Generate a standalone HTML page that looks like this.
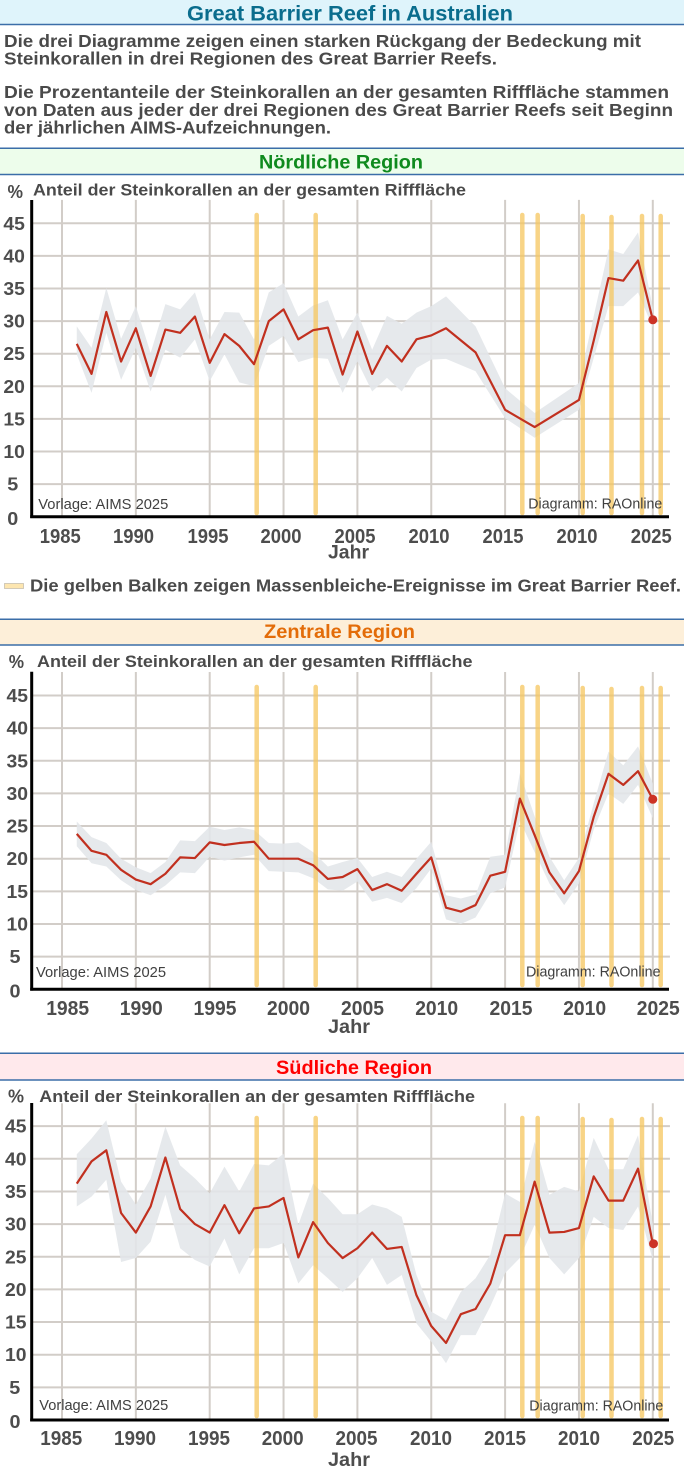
<!DOCTYPE html>
<html><head><meta charset="utf-8"><style>
html,body{margin:0;padding:0;background:#fff}
svg{display:block}
text{font-family:"Liberation Sans",Arial,sans-serif}
.b{font-weight:bold}
.gr line{stroke:#d2cdc8;stroke-width:2;vector-effect:non-scaling-stroke}
.band{fill:#e3e6e9;opacity:.88}
.ln{fill:none;stroke:#c1301f;stroke-width:2.2;stroke-linejoin:round;vector-effect:non-scaling-stroke}
.bar line{stroke:#f5c55e;stroke-opacity:.75;stroke-width:4.5;stroke-linecap:round}
.ax{stroke:#000;stroke-width:3}
.yt{font-weight:bold;font-size:18.5px;fill:#4d4d4d;text-anchor:middle}
.xt{font-weight:bold;font-size:20px;fill:#4d4d4d;text-anchor:middle}
.sep{stroke:#3b6ea8;stroke-width:1.5}
.src{font-size:15px;fill:#404040}
</style></head><body>
<svg width="684" height="1473" viewBox="0 0 684 1473" xmlns="http://www.w3.org/2000/svg">
<rect width="684" height="1473" fill="#fff"/>
<!-- Header -->
<rect x="0" y="0" width="684" height="24.3" fill="#dff4fb"/>
<line class="sep" x1="0" y1="24.5" x2="684" y2="24.5"/>
<text class="b" x="187" y="20.5" font-size="21" fill="#0a6d8d" textLength="326" lengthAdjust="spacingAndGlyphs">Great Barrier Reef in Australien</text>
<g class="b" font-size="17.5" fill="#4a4a4a">
<text x="4" y="47" textLength="637" lengthAdjust="spacingAndGlyphs">Die drei Diagramme zeigen einen starken Rückgang der Bedeckung mit</text>
<text x="4" y="64.5" textLength="493" lengthAdjust="spacingAndGlyphs">Steinkorallen in drei Regionen des Great Barrier Reefs.</text>
<text x="4" y="98" textLength="665" lengthAdjust="spacingAndGlyphs">Die Prozentanteile der Steinkorallen an der gesamten Rifffläche stammen</text>
<text x="4" y="116" textLength="669" lengthAdjust="spacingAndGlyphs">von Daten aus jeder der drei Regionen des Great Barrier Reefs seit Beginn</text>
<text x="4" y="133.5" textLength="327" lengthAdjust="spacingAndGlyphs">der jährlichen AIMS-Aufzeichnungen.</text>
</g>

<!-- Nördliche band -->
<rect x="0" y="148.3" width="684" height="26.2" fill="#edfdeb"/>
<line class="sep" x1="0" y1="148.3" x2="684" y2="148.3"/>
<line class="sep" x1="0" y1="174.5" x2="684" y2="174.5"/>
<text class="b" x="259" y="168.5" font-size="19.5" fill="#0f8a1e" textLength="164" lengthAdjust="spacingAndGlyphs">Nördliche Region</text>

<!-- Chart 1 -->
<text class="b" x="7.5" y="198" font-size="18.5" fill="#4a4a4a" textLength="15.5" lengthAdjust="spacingAndGlyphs">%</text>
<text class="b" x="33" y="195.5" font-size="17" fill="#4a4a4a" textLength="433" lengthAdjust="spacingAndGlyphs">Anteil der Steinkorallen an der gesamten Rifffläche</text>
<g transform="matrix(14.77 0 0 -6.52 62 516.7)">
<g class="gr">
<line x1="-2.03" y1="5" x2="41.16" y2="5"/><line x1="-2.03" y1="10" x2="41.16" y2="10"/><line x1="-2.03" y1="15" x2="41.16" y2="15"/><line x1="-2.03" y1="20" x2="41.16" y2="20"/><line x1="-2.03" y1="25" x2="41.16" y2="25"/><line x1="-2.03" y1="30" x2="41.16" y2="30"/><line x1="-2.03" y1="35" x2="41.16" y2="35"/><line x1="-2.03" y1="40" x2="41.16" y2="40"/><line x1="-2.03" y1="45" x2="41.16" y2="45"/>
<line x1="0" y1="0" x2="0" y2="48.6"/><line x1="5" y1="0" x2="5" y2="48.6"/><line x1="10" y1="0" x2="10" y2="48.6"/><line x1="15" y1="0" x2="15" y2="48.6"/><line x1="20" y1="0" x2="20" y2="48.6"/><line x1="25" y1="0" x2="25" y2="48.6"/><line x1="30" y1="0" x2="30" y2="48.6"/><line x1="35" y1="0" x2="35" y2="48.6"/><line x1="40" y1="0" x2="40" y2="48.6"/>
</g>
<polygon class="band" points="1,29.2 2,25.9 3,35.1 4,27.3 5,32.3 6,25.1 7,32.6 8,31.8 9,34.4 10,27.2 11,31.4 12,31.3 13,27.2 14,34.4 15,35.8 16,30.7 17,32.4 18,33.2 19,27.2 20,31.3 21,25.6 22,30.8 23,29.6 24,31.3 25,32.3 26,33.8 28,29.2 30,19.7 32,15.9 35,20.5 37,41 38,40.3 39,43.6 40,32 40,29 39,34.4 38,32.3 37,32.3 35,16.4 32,12.1 30,15.1 28,22.3 26,24.2 25,24.1 24,22.8 23,19.2 22,21.3 21,19.2 20,23.8 19,19 18,24.2 17,24.4 16,23.7 15,27.7 14,26.2 13,20 12,20.6 11,24.9 10,20.8 9,27.2 8,24.4 7,25.6 6,19.2 5,25.9 4,21 3,28.2 2,19 1,24.9"/>
</g>
<g class="bar">
<line x1="256.7" y1="215" x2="256.7" y2="513"/><line x1="315.7" y1="215" x2="315.7" y2="513"/><line x1="522.3" y1="215" x2="522.3" y2="513"/><line x1="537.7" y1="215" x2="537.7" y2="513"/><line x1="582.7" y1="216" x2="582.7" y2="513"/><line x1="611.5" y1="217" x2="611.5" y2="513"/><line x1="642" y1="216" x2="642" y2="513"/><line x1="660.7" y1="216" x2="660.7" y2="513"/>
</g>
<g transform="matrix(14.77 0 0 -6.52 62 516.7)">
<polyline class="ln" points="1,26.5 2,21.9 3,31.4 4,23.8 5,28.9 6,21.6 7,28.7 8,28.2 9,30.7 10,23.6 11,28 12,26.2 13,23.4 14,30 15,31.8 16,27.2 17,28.6 18,29 19,21.8 20,28.4 21,21.9 22,26.2 23,23.8 24,27.2 25,27.8 26,28.9 28,25.2 30,16.4 32,13.75 35,17.9 36,27 37,36.6 38,36.2 39,39.3 40,30.2"/>
</g>
<circle cx="652.8" cy="319.8" r="4.5" fill="#cc3326"/>
<line class="ax" x1="31.7" y1="200" x2="31.7" y2="518"/>
<line class="ax" x1="30.2" y1="516.7" x2="669" y2="516.7"/>
<g>
<text class="yt" x="14.2" y="230" textLength="21.5" lengthAdjust="spacingAndGlyphs">45</text>
<text class="yt" x="14.2" y="262.5" textLength="21.5" lengthAdjust="spacingAndGlyphs">40</text>
<text class="yt" x="14.2" y="295" textLength="21.5" lengthAdjust="spacingAndGlyphs">35</text>
<text class="yt" x="14.2" y="327.6" textLength="21.5" lengthAdjust="spacingAndGlyphs">30</text>
<text class="yt" x="14.2" y="360.2" textLength="21.5" lengthAdjust="spacingAndGlyphs">25</text>
<text class="yt" x="14.2" y="392.8" textLength="21.5" lengthAdjust="spacingAndGlyphs">20</text>
<text class="yt" x="14.2" y="425.4" textLength="21.5" lengthAdjust="spacingAndGlyphs">15</text>
<text class="yt" x="14.2" y="458" textLength="21.5" lengthAdjust="spacingAndGlyphs">10</text>
<text class="yt" x="12.8" y="490.6" textLength="11" lengthAdjust="spacingAndGlyphs">5</text>
<text class="yt" x="12.8" y="525" textLength="11" lengthAdjust="spacingAndGlyphs">0</text>
</g>
<g>
<text class="xt" x="60.3" y="543" textLength="41" lengthAdjust="spacingAndGlyphs">1985</text>
<text class="xt" x="133.5" y="543" textLength="41" lengthAdjust="spacingAndGlyphs">1990</text>
<text class="xt" x="208" y="543" textLength="41" lengthAdjust="spacingAndGlyphs">1995</text>
<text class="xt" x="281" y="543" textLength="41" lengthAdjust="spacingAndGlyphs">2000</text>
<text class="xt" x="355" y="543" textLength="41" lengthAdjust="spacingAndGlyphs">2005</text>
<text class="xt" x="429" y="543" textLength="41" lengthAdjust="spacingAndGlyphs">2010</text>
<text class="xt" x="503" y="543" textLength="41" lengthAdjust="spacingAndGlyphs">2015</text>
<text class="xt" x="577" y="543" textLength="41" lengthAdjust="spacingAndGlyphs">2010</text>
<text class="xt" x="651.3" y="543" textLength="41" lengthAdjust="spacingAndGlyphs">2025</text>
</g>
<text class="b" x="328" y="558.5" font-size="19" fill="#4d4d4d" textLength="41" lengthAdjust="spacingAndGlyphs">Jahr</text>
<text class="src" x="38.3" y="509" textLength="130" lengthAdjust="spacingAndGlyphs">Vorlage: AIMS 2025</text>
<text class="src" x="528.3" y="508.5" textLength="134" lengthAdjust="spacingAndGlyphs">Diagramm: RAOnline</text>

<!-- Legend -->
<rect x="4.5" y="583.5" width="19" height="5" fill="#fde6b0" stroke="#c8c0b0" stroke-width="0.8"/>
<text class="b" x="30" y="591.5" font-size="17.5" fill="#4a4a4a" textLength="651" lengthAdjust="spacingAndGlyphs">Die gelben Balken zeigen Massenbleiche-Ereignisse im Great Barrier Reef.</text>

<!-- Zentrale band -->
<rect x="0" y="619.3" width="684" height="25.7" fill="#fdefd9"/>
<line class="sep" x1="0" y1="619.3" x2="684" y2="619.3"/>
<line class="sep" x1="0" y1="645" x2="684" y2="645"/>
<text class="b" x="264" y="638" font-size="19.5" fill="#e36c09" textLength="151" lengthAdjust="spacingAndGlyphs">Zentrale Region</text>

<!-- Chart 2 -->
<text class="b" x="8.7" y="668" font-size="18.5" fill="#4a4a4a" textLength="15.3" lengthAdjust="spacingAndGlyphs">%</text>
<text class="b" x="37" y="667" font-size="17" fill="#4a4a4a" textLength="435.5" lengthAdjust="spacingAndGlyphs">Anteil der Steinkorallen an der gesamten Rifffläche</text>
<g transform="matrix(14.77 0 0 -6.53 62 989.3)">
<g class="gr">
<line x1="-2.03" y1="5" x2="41.16" y2="5"/><line x1="-2.03" y1="10" x2="41.16" y2="10"/><line x1="-2.03" y1="15" x2="41.16" y2="15"/><line x1="-2.03" y1="20" x2="41.16" y2="20"/><line x1="-2.03" y1="25" x2="41.16" y2="25"/><line x1="-2.03" y1="30" x2="41.16" y2="30"/><line x1="-2.03" y1="35" x2="41.16" y2="35"/><line x1="-2.03" y1="40" x2="41.16" y2="40"/><line x1="-2.03" y1="45" x2="41.16" y2="45"/>
<line x1="0" y1="0" x2="0" y2="48.6"/><line x1="5" y1="0" x2="5" y2="48.6"/><line x1="10" y1="0" x2="10" y2="48.6"/><line x1="15" y1="0" x2="15" y2="48.6"/><line x1="20" y1="0" x2="20" y2="48.6"/><line x1="25" y1="0" x2="25" y2="48.6"/><line x1="30" y1="0" x2="30" y2="48.6"/><line x1="35" y1="0" x2="35" y2="48.6"/><line x1="40" y1="0" x2="40" y2="48.6"/>
</g>
<polygon class="band" points="1,25.7 2,23.3 3,22.4 4,20 5,18.7 6,17.8 7,19.5 8,22.8 9,22.7 10,24.9 11,24.4 12,24.8 13,24.4 14,22.4 15,22.3 16,22.5 17,21 18,18.8 19,19.5 20,20.1 21,17.2 22,18 23,17.2 24,20 25,22.6 26,14.4 27,13.9 28,14.5 29,20.3 30,20.6 31,33.1 32,26.5 33,20.3 34,16.7 35,20.1 36,28.5 37,36.4 38,34.3 39,37.2 40,31.5 40,26.2 39,31.3 38,28.4 37,30 36,24.5 35,16.2 34,12.9 33,16.2 32,21 31,25.8 30,15.6 29,14.7 28,11 27,10 26,10.7 25,18.5 24,15.5 23,13.2 22,14 21,13.4 20,16.5 19,15.1 18,15.3 17,17 16,17.9 15,18 14,18.1 13,20.6 12,20.2 11,19.7 10,20.3 9,17.8 8,17.9 7,15.9 6,14.4 5,15.2 4,16.7 3,18.8 2,19.3 1,21.9"/>
</g>
<g class="bar">
<line x1="256.7" y1="687" x2="256.7" y2="985"/><line x1="315.7" y1="687" x2="315.7" y2="985"/><line x1="522.3" y1="687" x2="522.3" y2="985"/><line x1="537.7" y1="687" x2="537.7" y2="985"/><line x1="582.7" y1="688" x2="582.7" y2="985"/><line x1="611.5" y1="689" x2="611.5" y2="985"/><line x1="642" y1="688" x2="642" y2="985"/><line x1="660.7" y1="688" x2="660.7" y2="985"/>
</g>
<g transform="matrix(14.77 0 0 -6.53 62 989.3)">
<polyline class="ln" points="1,23.8 2,21.2 3,20.6 4,18.3 5,16.8 6,16.1 7,17.7 8,20.2 9,20.1 10,22.5 11,22.1 12,22.4 13,22.6 14,20 15,20 16,20 17,19 18,16.9 19,17.2 20,18.4 21,15.2 22,16.1 23,15.1 24,17.7 25,20.2 26,12.5 27,11.9 28,12.9 29,17.4 30,18 31,29.2 32,23.6 33,17.9 34,14.7 35,18.1 36,26.4 37,33 38,31.3 39,33.4 40,29.1"/>
</g>
<circle cx="652.8" cy="799.3" r="4.5" fill="#cc3326"/>
<line class="ax" x1="31.7" y1="671.7" x2="31.7" y2="990.6"/>
<line class="ax" x1="30.2" y1="989.3" x2="669" y2="989.3"/>
<g>
<text class="yt" x="17.3" y="702" textLength="21.5" lengthAdjust="spacingAndGlyphs">45</text>
<text class="yt" x="17.3" y="734.6" textLength="21.5" lengthAdjust="spacingAndGlyphs">40</text>
<text class="yt" x="17.3" y="767.3" textLength="21.5" lengthAdjust="spacingAndGlyphs">35</text>
<text class="yt" x="17.3" y="799.9" textLength="21.5" lengthAdjust="spacingAndGlyphs">30</text>
<text class="yt" x="17.3" y="832.6" textLength="21.5" lengthAdjust="spacingAndGlyphs">25</text>
<text class="yt" x="17.3" y="865.2" textLength="21.5" lengthAdjust="spacingAndGlyphs">20</text>
<text class="yt" x="17.3" y="897.9" textLength="21.5" lengthAdjust="spacingAndGlyphs">15</text>
<text class="yt" x="17.3" y="930.5" textLength="21.5" lengthAdjust="spacingAndGlyphs">10</text>
<text class="yt" x="15" y="963.2" textLength="11" lengthAdjust="spacingAndGlyphs">5</text>
<text class="yt" x="15" y="997.5" textLength="11" lengthAdjust="spacingAndGlyphs">0</text>
</g>
<g>
<text class="xt" x="67.7" y="1015" textLength="43" lengthAdjust="spacingAndGlyphs">1985</text>
<text class="xt" x="141.3" y="1015" textLength="43" lengthAdjust="spacingAndGlyphs">1990</text>
<text class="xt" x="215" y="1015" textLength="43" lengthAdjust="spacingAndGlyphs">1995</text>
<text class="xt" x="288.5" y="1015" textLength="43" lengthAdjust="spacingAndGlyphs">2000</text>
<text class="xt" x="362.5" y="1015" textLength="43" lengthAdjust="spacingAndGlyphs">2005</text>
<text class="xt" x="436.7" y="1015" textLength="43" lengthAdjust="spacingAndGlyphs">2010</text>
<text class="xt" x="511" y="1015" textLength="43" lengthAdjust="spacingAndGlyphs">2015</text>
<text class="xt" x="584.7" y="1015" textLength="43" lengthAdjust="spacingAndGlyphs">2010</text>
<text class="xt" x="658.3" y="1015" textLength="43" lengthAdjust="spacingAndGlyphs">2025</text>
</g>
<text class="b" x="328" y="1033" font-size="19" fill="#4d4d4d" textLength="42" lengthAdjust="spacingAndGlyphs">Jahr</text>
<text class="src" x="36" y="977" textLength="130" lengthAdjust="spacingAndGlyphs">Vorlage: AIMS 2025</text>
<text class="src" x="526" y="976.7" textLength="134.5" lengthAdjust="spacingAndGlyphs">Diagramm: RAOnline</text>

<!-- Südliche band -->
<rect x="0" y="1053.3" width="684" height="26.7" fill="#ffe9ec"/>
<line class="sep" x1="0" y1="1053.3" x2="684" y2="1053.3"/>
<line class="sep" x1="0" y1="1080" x2="684" y2="1080"/>
<text class="b" x="276" y="1074" font-size="19.5" fill="#ff0000" textLength="156" lengthAdjust="spacingAndGlyphs">Südliche Region</text>

<!-- Chart 3 -->
<text class="b" x="8" y="1102.5" font-size="18.5" fill="#4a4a4a" textLength="16" lengthAdjust="spacingAndGlyphs">%</text>
<text class="b" x="39.3" y="1102" font-size="17" fill="#4a4a4a" textLength="435.7" lengthAdjust="spacingAndGlyphs">Anteil der Steinkorallen an der gesamten Rifffläche</text>
<g transform="matrix(14.77 0 0 -6.53 62 1420)">
<g class="gr">
<line x1="-2.03" y1="5" x2="41.16" y2="5"/><line x1="-2.03" y1="10" x2="41.16" y2="10"/><line x1="-2.03" y1="15" x2="41.16" y2="15"/><line x1="-2.03" y1="20" x2="41.16" y2="20"/><line x1="-2.03" y1="25" x2="41.16" y2="25"/><line x1="-2.03" y1="30" x2="41.16" y2="30"/><line x1="-2.03" y1="35" x2="41.16" y2="35"/><line x1="-2.03" y1="40" x2="41.16" y2="40"/><line x1="-2.03" y1="45" x2="41.16" y2="45"/>
<line x1="0" y1="0" x2="0" y2="48.5"/><line x1="5" y1="0" x2="5" y2="48.5"/><line x1="10" y1="0" x2="10" y2="48.5"/><line x1="15" y1="0" x2="15" y2="48.5"/><line x1="20" y1="0" x2="20" y2="48.5"/><line x1="25" y1="0" x2="25" y2="48.5"/><line x1="30" y1="0" x2="30" y2="48.5"/><line x1="35" y1="0" x2="35" y2="48.5"/><line x1="40" y1="0" x2="40" y2="48.5"/>
</g>
<polygon class="band" points="1,40.7 2,43.1 3,45.9 4,36.5 5,33 6,37 7,44.9 8,39 9,37 10,34.7 11,38.8 12,35 13,39.2 14,39 15,40.8 16,29.9 17,36.2 18,34 19,31.5 20,31.5 21,33 22,32.4 23,31.1 24,22.2 25,16.6 26,15.3 27,19.6 28,21.7 29,25.3 30,34.7 31,33.4 32,42.6 33,34.5 34,35.7 35,35 36,43.2 37,38.4 38,38.4 39,43.6 40,30 40,24.5 39,32.7 38,29.1 37,29.4 36,31.1 35,24.8 34,22.3 33,24.8 32,29.9 31,24.8 30,22.5 29,17.4 28,13 27,13 26,8.7 25,12 24,14.8 23,22.2 22,20.7 21,24.8 20,21.7 19,19.6 18,21.7 17,23.7 16,20.9 15,27.1 14,26.3 13,26.3 12,22.3 11,27.8 10,23.5 9,24.5 8,26.3 7,34.5 6,27.3 5,24.8 4,24.2 3,36.8 2,34.2 1,32.7"/>
</g>
<g class="bar">
<line x1="256.7" y1="1118" x2="256.7" y2="1416"/><line x1="315.7" y1="1118" x2="315.7" y2="1416"/><line x1="522.3" y1="1118" x2="522.3" y2="1416"/><line x1="537.7" y1="1118" x2="537.7" y2="1416"/><line x1="582.7" y1="1119" x2="582.7" y2="1416"/><line x1="611.5" y1="1120" x2="611.5" y2="1416"/><line x1="642" y1="1119" x2="642" y2="1416"/><line x1="660.7" y1="1119" x2="660.7" y2="1416"/>
</g>
<g transform="matrix(14.77 0 0 -6.53 62 1420)">
<polyline class="ln" points="1,36.2 2,39.6 3,41.3 4,31.7 5,28.7 6,32.7 7,40.2 8,32.3 9,30 10,28.7 11,32.9 12,28.6 13,32.4 14,32.7 15,34 16,24.9 17,30.3 18,27.1 19,24.8 20,26.3 21,28.7 22,26.2 23,26.5 24,19.1 25,14.4 26,11.8 27,16.2 28,17 29,20.9 30,28.3 31,28.3 32,36.5 33,28.7 34,28.8 35,29.4 36,37.3 37,33.6 38,33.6 39,38.5 40,27"/>
</g>
<circle cx="653.5" cy="1243.7" r="4.5" fill="#cc3326"/>
<line class="ax" x1="31.7" y1="1103" x2="31.7" y2="1421.3"/>
<line class="ax" x1="30.2" y1="1420" x2="669" y2="1420"/>
<g>
<text class="yt" x="15.8" y="1132.7" textLength="21.5" lengthAdjust="spacingAndGlyphs">45</text>
<text class="yt" x="15.8" y="1165.3" textLength="21.5" lengthAdjust="spacingAndGlyphs">40</text>
<text class="yt" x="15.8" y="1198" textLength="21.5" lengthAdjust="spacingAndGlyphs">35</text>
<text class="yt" x="15.8" y="1230.6" textLength="21.5" lengthAdjust="spacingAndGlyphs">30</text>
<text class="yt" x="15.8" y="1263.3" textLength="21.5" lengthAdjust="spacingAndGlyphs">25</text>
<text class="yt" x="15.8" y="1295.9" textLength="21.5" lengthAdjust="spacingAndGlyphs">20</text>
<text class="yt" x="15.8" y="1328.6" textLength="21.5" lengthAdjust="spacingAndGlyphs">15</text>
<text class="yt" x="15.8" y="1361.2" textLength="21.5" lengthAdjust="spacingAndGlyphs">10</text>
<text class="yt" x="14.8" y="1393.9" textLength="11" lengthAdjust="spacingAndGlyphs">5</text>
<text class="yt" x="15" y="1428" textLength="11" lengthAdjust="spacingAndGlyphs">0</text>
</g>
<g>
<text class="xt" x="61.3" y="1445" textLength="42" lengthAdjust="spacingAndGlyphs">1985</text>
<text class="xt" x="135" y="1445" textLength="42" lengthAdjust="spacingAndGlyphs">1990</text>
<text class="xt" x="209" y="1445" textLength="42" lengthAdjust="spacingAndGlyphs">1995</text>
<text class="xt" x="282.7" y="1445" textLength="42" lengthAdjust="spacingAndGlyphs">2000</text>
<text class="xt" x="356.5" y="1445" textLength="42" lengthAdjust="spacingAndGlyphs">2005</text>
<text class="xt" x="431" y="1445" textLength="42" lengthAdjust="spacingAndGlyphs">2010</text>
<text class="xt" x="505" y="1445" textLength="42" lengthAdjust="spacingAndGlyphs">2015</text>
<text class="xt" x="579" y="1445" textLength="42" lengthAdjust="spacingAndGlyphs">2010</text>
<text class="xt" x="653.3" y="1445" textLength="42" lengthAdjust="spacingAndGlyphs">2025</text>
</g>
<text class="b" x="328" y="1466" font-size="19" fill="#4d4d4d" textLength="42" lengthAdjust="spacingAndGlyphs">Jahr</text>
<text class="src" x="39.3" y="1410" textLength="129" lengthAdjust="spacingAndGlyphs">Vorlage: AIMS 2025</text>
<text class="src" x="529.3" y="1410.5" textLength="134" lengthAdjust="spacingAndGlyphs">Diagramm: RAOnline</text>
</svg>
</body></html>
